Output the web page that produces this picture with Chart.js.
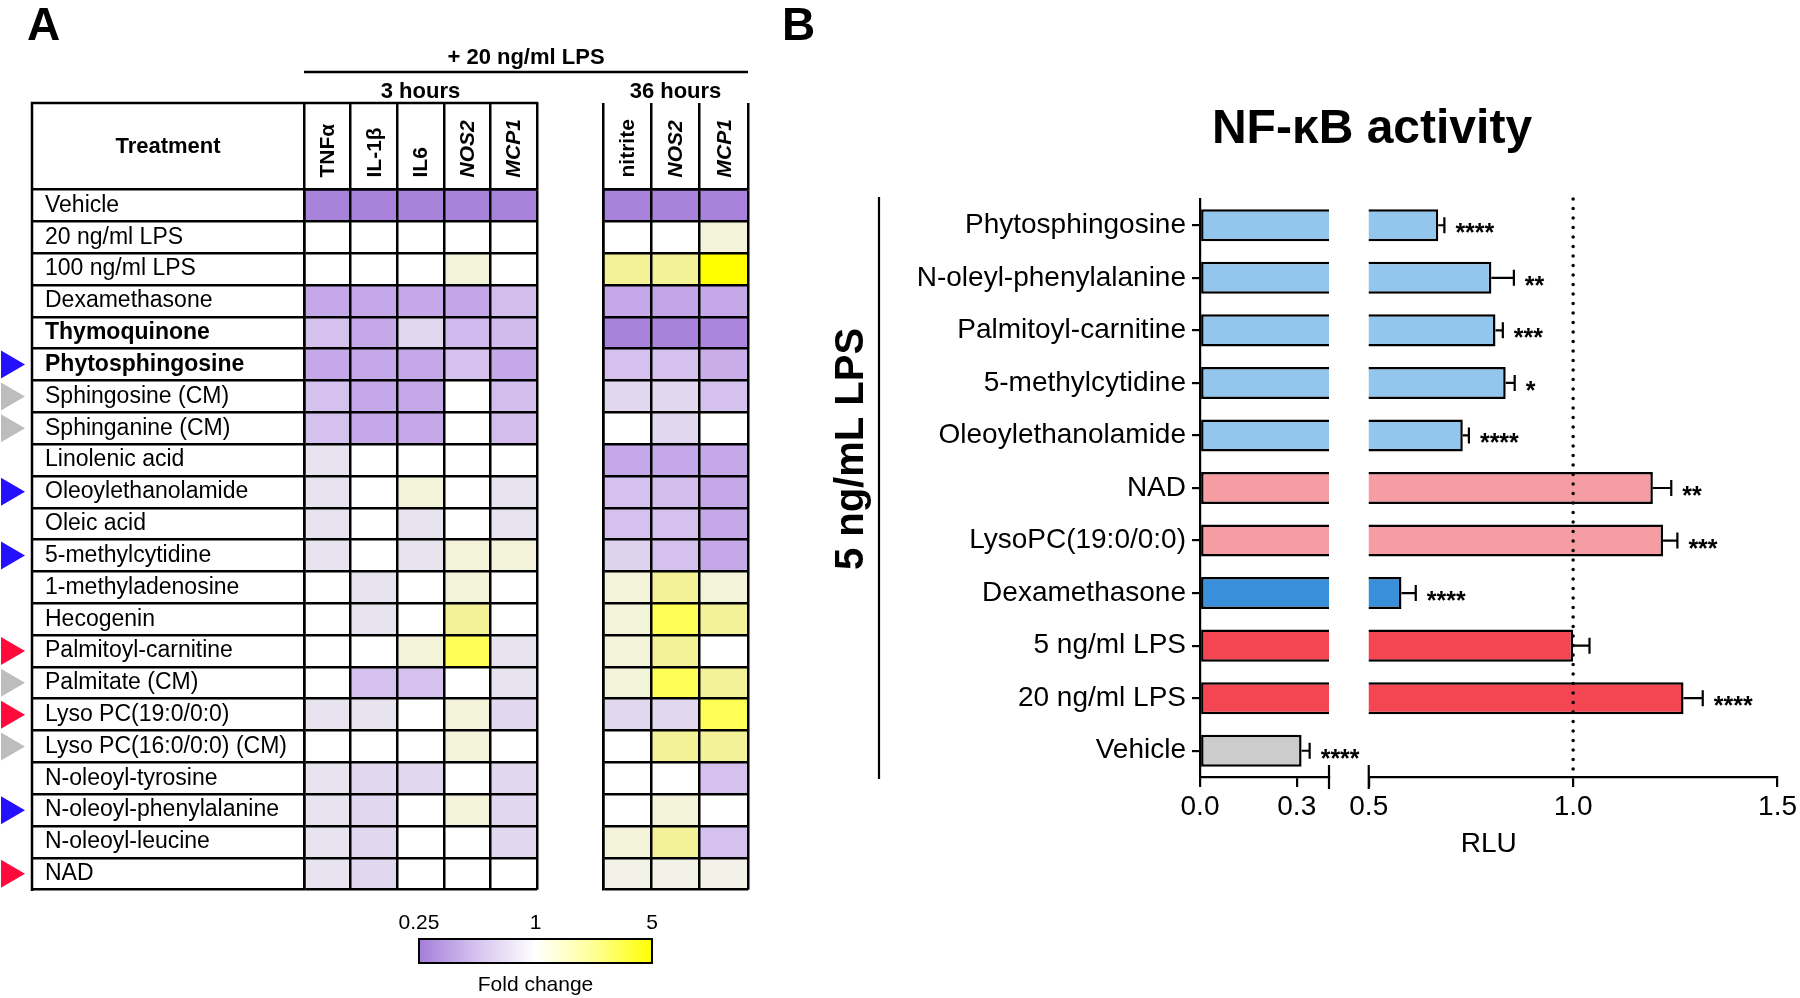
<!DOCTYPE html>
<html>
<head>
<meta charset="utf-8">
<script src="https://cdn.jsdelivr.net/npm/chart.js@4.4.0/dist/chart.umd.min.js"></script>
<style>
  html, body { margin: 0; padding: 0; background: #fff; }
  #wrap { position: relative; width: 1800px; height: 998px; }
  #wrap canvas { position: absolute; left: 0; top: 0; }
</style>
</head>
<body>
<div id="wrap">
  <canvas id="heat3" width="1800" height="998"></canvas>
  <canvas id="heat36" width="1800" height="998"></canvas>
  <canvas id="nfkbLow" width="1800" height="998"></canvas>
  <canvas id="nfkbHigh" width="1800" height="998"></canvas>
</div>
<script>
// ---- panel A data (fold change vs 20 ng/ml LPS) ----
const treatments = ['Vehicle', '20 ng/ml LPS', '100 ng/ml LPS', 'Dexamethasone', 'Thymoquinone',
  'Phytosphingosine', 'Sphingosine (CM)', 'Sphinganine (CM)', 'Linolenic acid', 'Oleoylethanolamide',
  'Oleic acid', '5-methylcytidine', '1-methyladenosine', 'Hecogenin', 'Palmitoyl-carnitine',
  'Palmitate (CM)', 'Lyso PC(19:0/0:0)', 'Lyso PC(16:0/0:0) (CM)', 'N-oleoyl-tyrosine',
  'N-oleoyl-phenylalanine', 'N-oleoyl-leucine', 'NAD'];
const boldRows = ['Thymoquinone', 'Phytosphingosine'];
const blueArrows = ['Phytosphingosine', 'Oleoylethanolamide', '5-methylcytidine', 'N-oleoyl-phenylalanine'];
const redArrows = ['Palmitoyl-carnitine', 'Lyso PC(19:0/0:0)', 'NAD'];
const greyArrows = ['Sphingosine (CM)', 'Sphinganine (CM)', 'Palmitate (CM)', 'Lyso PC(16:0/0:0) (CM)'];

const cols3h = ['TNFα', 'IL-1β', 'IL6', 'NOS2', 'MCP1'];
const cols36h = ['nitrite', 'NOS2', 'MCP1'];
const italicCols = ['NOS2', 'MCP1'];

const fold3h = [
  [0.25, 0.25, 0.25, 0.25, 0.25],
  [1, 1, 1, 1, 1],
  [1, 1, 1, 1.38, 1],
  [0.38, 0.38, 0.38, 0.37, 0.48],
  [0.5, 0.38, 0.66, 0.46, 0.47],
  [0.38, 0.38, 0.38, 0.5, 0.38],
  [0.5, 0.38, 0.38, 1, 0.48],
  [0.5, 0.38, 0.38, 1, 0.48],
  [0.81, 1, 1, 1, 1],
  [0.81, 1, 1.38, 1, 0.81],
  [0.81, 1, 0.81, 1, 0.81],
  [0.81, 1, 0.81, 1.38, 1.38],
  [1, 0.81, 1, 1.38, 1],
  [1, 0.81, 1, 2.4, 1],
  [1, 1, 1.38, 3.9, 0.81],
  [1, 0.5, 0.5, 1, 0.81],
  [0.81, 0.81, 1, 1.38, 0.66],
  [1, 1, 1, 1.38, 1],
  [0.81, 0.66, 0.66, 1, 0.66],
  [0.81, 0.66, 1, 1.38, 0.66],
  [0.81, 0.66, 1, 1, 0.66],
  [0.81, 0.66, 1, 1, 1],
];
const fold36h = [
  [0.25, 0.25, 0.25],
  [1, 1, 1.38],
  [2.4, 2.4, 5],
  [0.38, 0.37, 0.38],
  [0.25, 0.25, 0.26],
  [0.5, 0.5, 0.4],
  [0.66, 0.66, 0.5],
  [1, 0.66, 1],
  [0.38, 0.38, 0.38],
  [0.5, 0.48, 0.38],
  [0.5, 0.5, 0.38],
  [0.62, 0.5, 0.38],
  [1.38, 2.4, 1.38],
  [1.38, 3.9, 2.4],
  [1.38, 2.4, 1],
  [1.38, 3.9, 2.4],
  [0.66, 0.66, 3.9],
  [1, 2.4, 2.4],
  [1, 1, 0.5],
  [1, 1.38, 1],
  [1.38, 2.4, 0.5],
  [1.15, 1.15, 1.15],
];
const scaleTicks = ['0.25', '1', '5'];

// ---- panel B data (NF-kB reporter, RLU) ----
const nfkbLabels = ['Phytosphingosine', 'N-oleyl-phenylalanine', 'Palmitoyl-carnitine', '5-methylcytidine',
  'Oleoylethanolamide', 'NAD', 'LysoPC(19:0/0:0)', 'Dexamethasone', '5 ng/ml LPS', '20 ng/ml LPS', 'Vehicle'];
const rlu = [0.67, 0.80, 0.81, 0.835, 0.73, 1.195, 1.22, 0.58, 1.0, 1.27, 0.315];
const rluErr = [0.015, 0.055, 0.018, 0.022, 0.015, 0.045, 0.035, 0.035, 0.04, 0.047, 0.025];
const stars = ['****', '**', '***', '*', '****', '**', '***', '****', '', '****', '****'];
const lowTicks = [0, 0.3];
const highTicks = [0.5, 1.0, 1.5];

const FONT = '"Liberation Sans", Arial, Helvetica, sans-serif';
Chart.defaults.font.family = FONT;
Chart.defaults.color = '#000';

const HEAD_H = 86.5;
const LABEL_W = 259;
const TREAT_W = 272;

const purpleStops = [[0, [255, 255, 255]], [0.15, [231, 228, 239]], [0.3, [225, 216, 239]],
  [0.5, [213, 193, 238]], [0.7, [197, 168, 232]], [1, [169, 130, 219]]];
const yellowStops = [[0, [255, 255, 255]], [0.08, [242, 242, 234]], [0.2, [243, 243, 218]],
  [0.55, [243, 242, 150]], [0.85, [255, 255, 85]], [1, [255, 255, 0]]];

function ramp(stops, t) {
  t = Math.max(0, Math.min(1, t));
  for (let k = 1; k < stops.length; k++) {
    if (t <= stops[k][0]) {
      const [t0, c0] = stops[k - 1];
      const [t1, c1] = stops[k];
      const f = (t - t0) / (t1 - t0);
      const c = c0.map((v, n) => Math.round(v + (c1[n] - v) * f));
      return `rgb(${c[0]},${c[1]},${c[2]})`;
    }
  }
  const c = stops[stops.length - 1][1];
  return `rgb(${c[0]},${c[1]},${c[2]})`;
}

function foldColor(v) {
  if (v < 1) return ramp(purpleStops, Math.log(v) / Math.log(0.25));
  return ramp(yellowStops, Math.log(v) / Math.log(5));
}

function arrowColour(name) {
  if (blueArrows.includes(name)) return '#2410ff';
  if (redArrows.includes(name)) return '#ff0a3c';
  if (greyArrows.includes(name)) return '#bdbdbd';
  return null;
}

// rotated column names inside the header cells
const headLabels = {
  id: 'headLabels',
  afterDraw(chart) {
    const { ctx, chartArea: a, scales: { x } } = chart;
    const cols = chart.data.datasets.map(d => d.label);
    ctx.save();
    ctx.fillStyle = '#000';
    ctx.textAlign = 'left';
    ctx.textBaseline = 'middle';
    cols.forEach((c, j) => {
      ctx.save();
      ctx.translate(x.getPixelForValue(j + 0.5) + 1, a.top - 12);
      ctx.rotate(-Math.PI / 2);
      ctx.font = (italicCols.includes(c) ? 'italic ' : '') + 'bold 21px ' + FONT;
      ctx.fillText(c, 0, 0);
      ctx.restore();
    });
    ctx.restore();
  },
};

function heatChart(id, cols, fold, padding, withLabels, extra) {
  return new Chart(document.getElementById(id), {
    type: 'bar',
    data: {
      labels: treatments,
      datasets: cols.map((c, j) => ({
        label: c,
        data: treatments.map(() => [j, j + 1]),
        backgroundColor: fold.map(row => foldColor(row[j])),
        borderWidth: 0,
        grouped: false,
        barPercentage: 1,
        categoryPercentage: 1,
      })),
    },
    options: {
      indexAxis: 'y',
      responsive: false,
      animation: false,
      events: [],
      layout: { padding },
      plugins: { legend: { display: false }, tooltip: { enabled: false } },
      scales: {
        x: {
          type: 'linear',
          position: 'top',
          min: 0,
          max: cols.length,
          grid: { z: 1, color: '#000', lineWidth: 2.5, tickLength: HEAD_H, drawOnChartArea: true },
          border: { display: true, color: '#000', width: 2.5, z: 1 },
          ticks: { display: false, stepSize: 1 },
          afterFit: s => { s.height = HEAD_H; },
        },
        y: {
          type: 'category',
          position: 'left',
          offset: true,
          grid: {
            z: 1, offset: true, color: '#000', lineWidth: 2.5,
            drawTicks: withLabels, tickLength: withLabels ? TREAT_W : 0,
          },
          border: { display: true, color: '#000', width: 2.5, z: 1 },
          ticks: {
            display: withLabels,
            autoSkip: false,
            crossAlign: 'far',
            color: '#000',
            font: ctx => ({
              family: FONT, size: 23,
              weight: boldRows.includes(treatments[ctx.index]) ? 'bold' : 'normal',
            }),
          },
          afterFit: s => { s.width = withLabels ? LABEL_W : 0; },
        },
      },
    },
    plugins: [headLabels, extra],
  });
}

// frame, "Treatment" header, arrows and panel letter
const panelA3 = {
  id: 'panelA3',
  afterDraw(chart) {
    const { ctx, chartArea: a, scales: { y } } = chart;
    const left = a.left - TREAT_W;
    const top = a.top - HEAD_H;
    ctx.save();
    ctx.strokeStyle = '#000';
    ctx.lineWidth = 2.5;
    ctx.beginPath();
    ctx.moveTo(left - 1.25, top);
    ctx.lineTo(a.right + 1.25, top);
    ctx.moveTo(left, top);
    ctx.lineTo(left, a.bottom + 1.25);
    ctx.stroke();

    ctx.fillStyle = '#000';
    ctx.font = 'bold 22px ' + FONT;
    ctx.textAlign = 'center';
    ctx.textBaseline = 'middle';
    ctx.fillText('Treatment', (left + a.left) / 2, top + HEAD_H / 2 + 1);

    ctx.font = 'bold 46px ' + FONT;
    ctx.textAlign = 'left';
    ctx.textBaseline = 'alphabetic';
    ctx.fillText('A', 27, 40);

    treatments.forEach((t, i) => {
      const col = arrowColour(t);
      if (!col) return;
      const yc = y.getPixelForValue(i);
      ctx.fillStyle = col;
      ctx.beginPath();
      ctx.moveTo(1, yc - 14);
      ctx.lineTo(25, yc);
      ctx.lineTo(1, yc + 14);
      ctx.closePath();
      ctx.fill();
    });
    ctx.restore();
  },
};

// group headers over both tables and the colour key
const panelA36 = {
  id: 'panelA36',
  afterDraw(chart) {
    const { ctx, chartArea: b } = chart;
    const a = Chart.getChart('heat3').chartArea;
    ctx.save();
    ctx.fillStyle = '#000';
    ctx.strokeStyle = '#000';
    ctx.lineWidth = 2.5;
    ctx.textAlign = 'center';
    ctx.textBaseline = 'middle';
    ctx.font = 'bold 22px ' + FONT;
    ctx.fillText('+ 20 ng/ml LPS', (a.left + b.right) / 2, 58);
    ctx.beginPath();
    ctx.moveTo(a.left, 72);
    ctx.lineTo(b.right, 72);
    ctx.stroke();
    ctx.fillText('3 hours', (a.left + a.right) / 2, 92);
    ctx.fillText('36 hours', (b.left + b.right) / 2, 92);

    // colour key
    const kx0 = 419, kx1 = 652, ky = 939, kh = 24;
    const g = ctx.createLinearGradient(kx0, 0, kx1, 0);
    g.addColorStop(0, 'rgb(164,126,219)');
    g.addColorStop(0.25, 'rgb(213,196,238)');
    g.addColorStop(0.5, '#ffffff');
    g.addColorStop(0.75, 'rgb(255,255,150)');
    g.addColorStop(1, 'rgb(255,255,0)');
    ctx.fillStyle = g;
    ctx.fillRect(kx0, ky, kx1 - kx0, kh);
    ctx.lineWidth = 2;
    ctx.strokeRect(kx0, ky, kx1 - kx0, kh);
    ctx.fillStyle = '#000';
    ctx.font = '21px ' + FONT;
    const kxs = [kx0, (kx0 + kx1) / 2, kx1];
    scaleTicks.forEach((t, i) => ctx.fillText(t, kxs[i], 923));
    ctx.fillText('Fold change', (kx0 + kx1) / 2, 985);
    ctx.restore();
  },
};

heatChart('heat3', cols3h, fold3h, { left: 45, right: 1800 - 537, top: 103 - HEAD_H + HEAD_H, bottom: 998 - 889.7 }, true, panelA3);
heatChart('heat36', cols36h, fold36h, { left: 603, right: 1800 - 748, top: 103, bottom: 998 - 889.7 }, false, panelA36);

// ---- panel B: broken value axis drawn as two charts ----
const barColours = ['#93c6ec', '#93c6ec', '#93c6ec', '#93c6ec', '#93c6ec',
  '#f69da3', '#f69da3', '#3a8fdb', '#f44553', '#f44553', '#cccccc'];

function errorBars(id) {
  return {
    id,
    afterDatasetsDraw(chart) {
      const { ctx, scales: { x, y } } = chart;
      ctx.save();
      ctx.strokeStyle = '#000';
      ctx.fillStyle = '#000';
      ctx.lineWidth = 2.2;
      ctx.font = 'bold 25px ' + FONT;
      ctx.textAlign = 'left';
      ctx.textBaseline = 'alphabetic';
      rlu.forEach((v, i) => {
        if (v < x.min || v > x.max) return;
        const yc = y.getPixelForValue(i);
        const x0 = x.getPixelForValue(v);
        const x1 = x.getPixelForValue(v + rluErr[i]);
        ctx.beginPath();
        ctx.moveTo(x0, yc);
        ctx.lineTo(x1, yc);
        ctx.moveTo(x1, yc - 8);
        ctx.lineTo(x1, yc + 8);
        ctx.stroke();
        if (stars[i]) ctx.fillText(stars[i], x1 + 11, yc + 16);
      });
      ctx.restore();
    },
  };
}

function breakMark(ctx, x, yAxis) {
  ctx.beginPath();
  ctx.moveTo(x, yAxis - 12);
  ctx.lineTo(x, yAxis + 12);
  ctx.stroke();
}

const panelBLow = {
  id: 'panelBLow',
  afterDraw(chart) {
    const { ctx, chartArea: a, scales: { x } } = chart;
    ctx.save();
    ctx.fillStyle = '#000';
    ctx.strokeStyle = '#000';
    ctx.lineWidth = 2.2;
    breakMark(ctx, x.getPixelForValue(x.max), a.bottom);

    ctx.font = 'bold 46px ' + FONT;
    ctx.textAlign = 'left';
    ctx.fillText('B', 782, 40);

    ctx.font = 'bold 48px ' + FONT;
    ctx.textAlign = 'center';
    ctx.textBaseline = 'middle';
    ctx.fillText('NF-κB activity', 1372, 130);

    ctx.beginPath();
    ctx.moveTo(879, a.top - 2);
    ctx.lineTo(879, a.bottom + 2);
    ctx.stroke();

    ctx.translate(852, 449);
    ctx.rotate(-Math.PI / 2);
    ctx.font = 'bold 40px ' + FONT;
    ctx.fillText('5 ng/mL LPS', 0, 0);
    ctx.restore();
  },
};

const panelBHigh = {
  id: 'panelBHigh',
  afterDraw(chart) {
    const { ctx, chartArea: a, scales: { x } } = chart;
    const low = Chart.getChart('nfkbLow').chartArea;
    ctx.save();
    ctx.strokeStyle = '#000';
    ctx.lineWidth = 2.2;
    breakMark(ctx, x.getPixelForValue(x.min), a.bottom);

    ctx.lineWidth = 3.5;
    ctx.lineCap = 'round';
    ctx.setLineDash([0, 9.5]);
    const xr = x.getPixelForValue(1.0);
    ctx.beginPath();
    ctx.moveTo(xr, a.top);
    ctx.lineTo(xr, a.bottom);
    ctx.stroke();
    ctx.setLineDash([]);

    ctx.fillStyle = '#000';
    ctx.font = '28px ' + FONT;
    ctx.textAlign = 'center';
    ctx.textBaseline = 'middle';
    ctx.fillText('RLU', (low.left + a.right) / 2, 844);
    ctx.restore();
  },
};

function nfkbChart(id, min, max, ticks, padding, showLabels, plugins) {
  return new Chart(document.getElementById(id), {
    type: 'bar',
    data: {
      labels: nfkbLabels,
      datasets: [{
        data: rlu,
        backgroundColor: barColours,
        borderColor: '#000',
        borderWidth: 2.5,
        borderSkipped: false,
        barPercentage: 0.61,
        categoryPercentage: 1,
        clip: 0,
      }],
    },
    options: {
      indexAxis: 'y',
      responsive: false,
      animation: false,
      events: [],
      layout: { padding },
      plugins: { legend: { display: false }, tooltip: { enabled: false } },
      scales: {
        x: {
          type: 'linear',
          min,
          max,
          afterBuildTicks: s => { s.ticks = ticks.map(v => ({ value: v })); },
          grid: { drawOnChartArea: false, color: '#000', lineWidth: 2.2, tickLength: 10 },
          border: { display: true, color: '#000', width: 2.2 },
          ticks: {
            padding: 3,
            color: '#000',
            font: { family: FONT, size: 28 },
            callback: v => Number(v).toFixed(1),
          },
          afterFit: s => { s.height = 60; },
        },
        y: {
          type: 'category',
          offset: true,
          display: showLabels,
          grid: { offset: false, drawOnChartArea: false, color: '#000', lineWidth: 2.2, tickLength: 8 },
          border: { display: true, color: '#000', width: 2.2 },
          ticks: { padding: 6, autoSkip: false, color: '#000', font: { family: FONT, size: 28 } },
          afterFit: s => { s.width = showLabels ? 300 : 0; },
        },
      },
    },
    plugins,
  });
}

nfkbChart('nfkbLow', 0, 0.4, lowTicks, { left: 900, right: 1800 - 1329, top: 199, bottom: 998 - 777 - 60 }, true,
  [errorBars('errLow'), panelBLow]);
nfkbChart('nfkbHigh', 0.5, 1.5, highTicks, { left: 1368.75, right: 20, top: 199, bottom: 998 - 777 - 60 }, false,
  [errorBars('errHigh'), panelBHigh]);
</script>
</body>
</html>
